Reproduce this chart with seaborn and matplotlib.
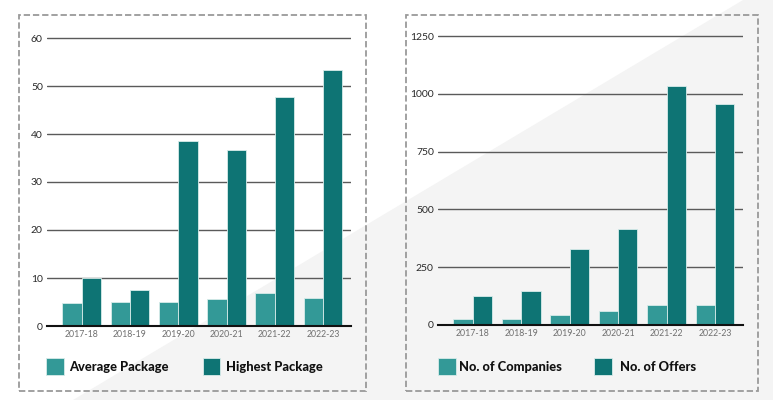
import matplotlib
matplotlib.use("Agg")
import matplotlib.pyplot as plt
from matplotlib.patches import Rectangle, Polygon
import seaborn as sns
import pandas as pd

years = ["2017-18", "2018-19", "2019-20", "2020-21", "2021-22", "2022-23"]
avg_package = [4.8, 5.1, 5.1, 5.6, 6.9, 5.9]
highest_package = [9.9, 7.4, 38.6, 36.6, 47.8, 53.3]
companies = [24, 24, 45, 61, 85, 85]
offers = [126, 148, 328, 416, 1035, 955]
left_names = ["Average Package", "Highest Package"]
right_names = ["No. of Companies", "No. of Offers"]
left_ticks = [0, 10, 20, 30, 40, 50, 60]
right_ticks = [0, 250, 500, 750, 1000, 1250]

LIGHT = "#339997"
DARK = "#0e7474"

sns.set_theme(style="white")
plt.rcParams["font.family"] = ["Lato", "DejaVu Sans"]

W, H = 773, 400
fig = plt.figure(figsize=(W / 100, H / 100), dpi=100)
fig.patch.set_facecolor("white")

# diagonal light grey background
fig.patches.append(Polygon([(73 / W, 0), (743 / W, 1), (1, 1), (1, 0)],
                           closed=True, transform=fig.transFigure,
                           facecolor="#f4f4f4", edgecolor="none", zorder=-10))

# dashed panel frames
for x0, x1 in [(19, 366), (406, 758)]:
    fig.patches.append(Rectangle((x0 / W, 1 - 391 / H), (x1 - x0) / W, (391 - 15) / H,
                                 transform=fig.transFigure, fill=False,
                                 edgecolor="#9a9a9a", linewidth=1.3,
                                 linestyle=(0, (3.5, 1.6)), zorder=-5))


def panel(px_left, px_right, px_zero, px_per_unit, ymax, a, b, names, ticks,
          leg_px):
    top_px = px_zero - ymax * px_per_unit
    ax = fig.add_axes([px_left / W, 1 - px_zero / H, (px_right - px_left) / W,
                       (px_zero - top_px) / H])
    ax.set_facecolor("none")
    ax.set_zorder(2)
    df = pd.DataFrame({"year": years * 2,
                       "value": list(a) + list(b),
                       "series": [names[0]] * len(years) + [names[1]] * len(years)})
    sns.barplot(data=df, x="year", y="value", hue="series", ax=ax,
                palette=[LIGHT, DARK], width=0.8, saturation=1,
                edgecolor="#d8ecea", linewidth=0.6, legend=False, zorder=3)
    ax.set_ylim(0, ymax)
    ax.set_xlim(-0.72, 5.58)
    ax.set_yticks(ticks)
    ax.yaxis.grid(True, color="#5a5a5a", linewidth=1.0, zorder=0)
    ax.set_axisbelow(True)
    for s in ["top", "right", "left"]:
        ax.spines[s].set_visible(False)
    ax.spines["bottom"].set_color("#111111")
    ax.spines["bottom"].set_linewidth(1.5)
    ax.spines["bottom"].set_zorder(5)
    ax.tick_params(axis="y", length=0, pad=3, labelsize=7.5, labelcolor="#2a2a2a")
    ax.tick_params(axis="x", length=0, pad=3, labelsize=6.3, labelcolor="#6f6f6f")
    ax.set_xlabel("")
    ax.set_ylabel("")
    # legend
    for (lx, tx), name, col in zip(leg_px, names, [LIGHT, DARK]):
        fig.patches.append(Rectangle((lx / W, 1 - 375 / H), 17.5 / W, 17 / H,
                                     transform=fig.transFigure, facecolor=col,
                                     edgecolor="#d8ecea", linewidth=0.6, zorder=3))
        fig.text(tx / W, 1 - 367 / H, name, fontsize=9.3, fontweight="black",
                 color="#111111", va="center", ha="left")
    return ax


panel(47, 351, 326, 4.8, 61, avg_package, highest_package, left_names,
      left_ticks, [(46, 69), (202.5, 226)])
panel(438, 743, 325, 0.2312, 1265, companies, offers, right_names,
      right_ticks, [(438, 459), (594, 620)])

fig.savefig("out.png", dpi=100, facecolor=fig.get_facecolor())
